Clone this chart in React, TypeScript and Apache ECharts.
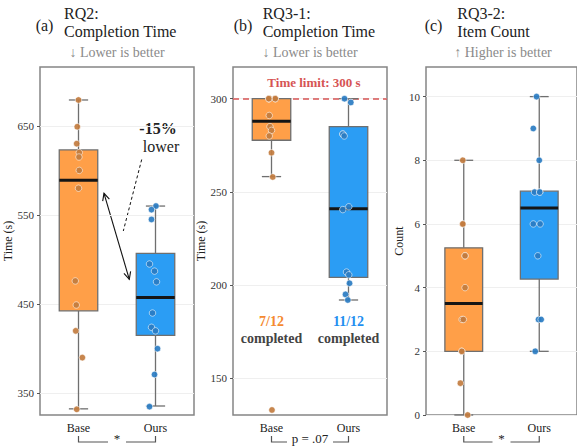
import React, { useEffect, useRef } from 'react';
import * as echarts from 'echarts';

// ---------- data ----------
const categories = ['Base', 'Ours'];

// [min, Q1, median, Q3, max] per condition
const rq2Box = [
  [332.5, 442.5, 589, 623, 679],
  [335.7, 415, 457.5, 507, 560],
];
const rq2Base = [679, 649, 630, 620, 615, 600, 580, 476, 449, 420, 390, 332];
const rq2BaseJitter = [0, -0.016, -0.023, 0.01, 0.006, 0.01, 0, -0.042, -0.029, -0.036, 0.05, -0.023];
const rq2Ours = [560, 556, 545, 495, 487, 475, 440, 424, 420, 400, 371, 335];
const rq2OursJitter = [0.006, -0.052, -0.052, -0.078, -0.013, 0.013, -0.039, -0.052, 0, 0.026, -0.013, -0.078];
const rq2Ticks = [350, 450, 550, 650];

const rq31Box = [
  [258.2, 277.7, 287.9, 300, 300],
  [192, 204.1, 241, 285, 300],
];
const rq31Base = [300, 300, 300, 300, 300, 291, 285, 283, 280, 271, 258, 133];
const rq31BaseJitter = [-0.036, 0.049, -0.029, 0.049, -0.036, -0.029, -0.02, 0, -0.029, 0, 0.016, 0.006];
const rq31Ours = [300, 298, 281, 281, 280, 242, 240.5, 207, 205.5, 201, 195, 192];
const rq31OursJitter = [-0.052, 0.03, -0.074, -0.074, -0.056, 0.004, -0.074, -0.026, 0.004, 0.013, -0.039, -0.009];
const rq31Ticks = [150, 200, 250, 300];
const timeLimit = 300;

const rq32Box = [
  [0, 2, 3.5, 5.25, 8],
  [2, 4.27, 6.5, 7.03, 10],
];
const rq32Base = [8, 6, 6, 5, 5, 4, 3, 3, 2, 2, 1, 0];
const rq32BaseJitter = [-0.013, -0.013, -0.013, 0.017, 0.017, 0.017, -0.022, -0.005, -0.026, -0.026, -0.044, 0.052];
const rq32Ours = [10, 9, 8, 7, 7, 7, 6, 6, 5, 3, 3, 2];
const rq32OursJitter = [-0.036, -0.079, 0, -0.062, 0.006, 0.006, -0.079, 0.012, -0.019, -0.01, 0.025, -0.053];
const rq32Ticks = [0, 2, 4, 6, 8, 10];

// ---------- styling ----------
const FONT = "'Liberation Serif', 'Times New Roman', 'DejaVu Serif', serif";
const BOX_FILL = ['#ff9f48', '#2b9df4'];
const DOT = ['#c27c3f', '#2a7cc2'];

const panels = [
  { box: rq2Box, base: rq2Base, baseJ: rq2BaseJitter, ours: rq2Ours, oursJ: rq2OursJitter, ticks: rq2Ticks, min: 325.6, max: 716, name: 'Time (s)', nameGap: 22, left: 40, width: 154 },
  { box: rq31Box, base: rq31Base, baseJ: rq31BaseJitter, ours: rq31Ours, oursJ: rq31OursJitter, ticks: rq31Ticks, min: 130.3, max: 317, name: 'Time (s)', nameGap: 15, left: 233, width: 154 },
  { box: rq32Box, base: rq32Base, baseJ: rq32BaseJitter, ours: rq32Ours, oursJ: rq32OursJitter, ticks: rq32Ticks, min: 0, max: 10.93, name: 'Count', nameGap: 16, left: 426, width: 151 },
];

const GRID_TOP = 67;
const GRID_H = 348;

function arrowHead(tipX: number, tipY: number, fromX: number, fromY: number) {
  const ang = Math.atan2(tipY - fromY, tipX - fromX);
  const len = 8;
  const spread = 0.45;
  return [
    [tipX - len * Math.cos(ang - spread), tipY - len * Math.sin(ang - spread)],
    [tipX, tipY],
    [tipX - len * Math.cos(ang + spread), tipY - len * Math.sin(ang + spread)],
  ];
}

export default function App() {
  const ref = useRef<HTMLDivElement>(null);
  useEffect(() => {
    const chart = echarts.init(ref.current!, null, { renderer: 'svg' });

    const grid = panels.map((p) => ({
      left: p.left, top: GRID_TOP, width: p.width, height: GRID_H,
      show: true, borderColor: '#858585', borderWidth: 1.5, backgroundColor: 'transparent',
    }));

    const xAxis: any[] = [];
    panels.forEach((p, i) => {
      xAxis.push({
        type: 'category', gridIndex: i, data: categories,
        axisLine: { show: false, onZero: false }, axisTick: { show: false },
        axisLabel: { fontFamily: FONT, fontSize: 12, color: '#222', margin: 7 },
        splitLine: { show: false },
      });
    });
    panels.forEach((p, i) => {
      xAxis.push({
        type: 'value', gridIndex: i, min: -0.5, max: 1.5, show: false,
        axisLine: { show: false, onZero: false }, axisTick: { show: false }, axisLabel: { show: false }, splitLine: { show: false },
      });
    });

    const yAxis = panels.map((p, i) => ({
      type: 'value', gridIndex: i, min: p.min, max: p.max,
      axisLine: { show: false, onZero: false },
      axisTick: { show: true, length: 3, customValues: p.ticks, lineStyle: { color: '#555' } },
      axisLabel: { customValues: p.ticks, fontFamily: FONT, fontSize: 11, color: '#333', margin: 6 },
      splitLine: { show: true, lineStyle: { color: '#efefef', width: 1 } },
      name: p.name, nameLocation: 'middle', nameGap: p.nameGap,
      nameTextStyle: { fontFamily: FONT, fontSize: 12, color: '#222' },
    }));

    const series: any[] = [];
    panels.forEach((p, i) => {
      series.push({
        type: 'custom', xAxisIndex: i, yAxisIndex: i, z: 2,
        data: p.box.map((b, k) => [k, ...b]),
        encode: { x: 0, y: [1, 2, 3, 4, 5] },
        renderItem: (params: any, api: any) => {
          const cat = api.value(0);
          const mn = api.value(1), q1 = api.value(2), md = api.value(3), q3 = api.value(4), mx = api.value(5);
          const band = api.size([1, 0])[0];
          const bw = band * 0.5;
          const cx = api.coord([cat, md])[0];
          const y = (v: number) => api.coord([cat, v])[1];
          const gray = { stroke: '#6f6f6f', lineWidth: 1.3 };
          return {
            type: 'group',
            children: [
              { type: 'line', shape: { x1: cx, y1: y(q3), x2: cx, y2: y(mx) }, style: gray },
              { type: 'line', shape: { x1: cx, y1: y(q1), x2: cx, y2: y(mn) }, style: gray },
              { type: 'line', shape: { x1: cx - bw / 4, y1: y(mx), x2: cx + bw / 4, y2: y(mx) }, style: gray },
              { type: 'line', shape: { x1: cx - bw / 4, y1: y(mn), x2: cx + bw / 4, y2: y(mn) }, style: gray },
              { type: 'rect', shape: { x: cx - bw / 2, y: y(q3), width: bw, height: y(q1) - y(q3) },
                style: { fill: BOX_FILL[cat], stroke: '#6f6f6f', lineWidth: 1.3 } },
              { type: 'line', shape: { x1: cx - bw / 2, y1: y(md), x2: cx + bw / 2, y2: y(md) },
                style: { stroke: '#151515', lineWidth: 3 } },
            ],
          };
        },
      });
      const groups = [
        { vals: p.base, jit: p.baseJ, c: 0 },
        { vals: p.ours, jit: p.oursJ, c: 1 },
      ];
      groups.forEach((g) => {
        const s: any = {
          type: 'scatter', xAxisIndex: 3 + i, yAxisIndex: i, z: 3,
          symbolSize: 6.5,
          data: g.vals.map((v, k) => [g.c + g.jit[k], v]),
          itemStyle: { color: DOT[g.c], opacity: 0.92, borderColor: 'rgba(255,255,255,0.75)', borderWidth: 0.8 },
          silent: true,
        };
        if (i === 1 && g.c === 0) {
          s.markLine = {
            silent: true, symbol: 'none', z: 1,
            lineStyle: { color: '#d65454', type: [6, 4], width: 1.5 },
            label: { show: false },
            data: [{ yAxis: timeLimit }],
          };
        }
        series.push(s);
      });
    });

    // ---------- annotations ----------
    const txt = (text: string, x: number, y: number, extra: any = {}) => ({
      type: 'text', x, y,
      style: { text, fontFamily: FONT, fontSize: 16, fill: '#222', textAlign: 'left', textVerticalAlign: 'middle', ...extra },
    });
    const titles = [
      { tag: '(a)', l1: 'RQ2:', l2: 'Completion Time', sub: '↓ Lower is better', tagX: 44.5, tx: 64 },
      { tag: '(b)', l1: 'RQ3-1:', l2: 'Completion Time', sub: '↓ Lower is better', tagX: 243, tx: 262.7 },
      { tag: '(c)', l1: 'RQ3-2:', l2: 'Item Count', sub: '↑ Higher is better', tagX: 433.5, tx: 457.3 },
    ];
    const graphic: any[] = [];
    titles.forEach((t, i) => {
      graphic.push(txt(t.tag, t.tagX, 25, { textAlign: 'center' }));
      graphic.push(txt(t.l1, t.tx, 13));
      graphic.push(txt(t.l2, t.tx, 31.5));
      graphic.push(txt(t.sub, panels[i].left + 77, 52, { textAlign: 'center', fontSize: 14, fill: '#8a8a8a' }));
    });

    // panel (a) annotation
    graphic.push(txt('-15%', 158, 128, { textAlign: 'center', fontWeight: 'bold' }));
    graphic.push(txt('lower', 161, 146, { textAlign: 'center' }));
    graphic.push({ type: 'line', shape: { x1: 141.7, y1: 159.5, x2: 123.3, y2: 231 }, style: { stroke: '#111', lineWidth: 1, lineDash: [3, 2.5] } });
    const A = [104, 193.3], B = [129.3, 279.3];
    graphic.push({ type: 'line', shape: { x1: A[0], y1: A[1], x2: B[0], y2: B[1] }, style: { stroke: '#111', lineWidth: 1.1 } });
    graphic.push({ type: 'polyline', shape: { points: arrowHead(A[0], A[1], B[0], B[1]) }, style: { stroke: '#111', lineWidth: 1.1, fill: 'none' } });
    graphic.push({ type: 'polyline', shape: { points: arrowHead(B[0], B[1], A[0], A[1]) }, style: { stroke: '#111', lineWidth: 1.1, fill: 'none' } });

    // panel (b) annotations
    graphic.push(txt('Time limit: 300 s', 314, 82, { textAlign: 'center', fontSize: 13, fontWeight: 'bold', fill: '#d65454' }));
    const bL = panels[1].left, bW = panels[1].width;
    graphic.push(txt('7/12', bL + bW * 0.25, 321, { textAlign: 'center', fontSize: 14, fontWeight: 'bold', fill: '#f58a30' }));
    graphic.push(txt('completed', bL + bW * 0.25, 338, { textAlign: 'center', fontSize: 14, fontWeight: 'bold', fill: '#444' }));
    graphic.push(txt('11/12', bL + bW * 0.75, 321, { textAlign: 'center', fontSize: 14, fontWeight: 'bold', fill: '#1f8ff0' }));
    graphic.push(txt('completed', bL + bW * 0.75, 338, { textAlign: 'center', fontSize: 14, fontWeight: 'bold', fill: '#444' }));

    // significance brackets
    const sig = [
      { label: '*', gap: 9 },
      { label: 'p = .07', gap: 23 },
      { label: '*', gap: 9 },
    ];
    sig.forEach((s, i) => {
      const x1 = panels[i].left + panels[i].width * 0.25;
      const x2 = panels[i].left + panels[i].width * 0.75;
      const mid = (x1 + x2) / 2;
      const yTop = 436, yBot = 442;
      const st = { stroke: '#555', lineWidth: 1.2, fill: 'none' };
      graphic.push({ type: 'polyline', shape: { points: [[x1, yTop], [x1, yBot], [mid - s.gap, yBot]] }, style: st });
      graphic.push({ type: 'polyline', shape: { points: [[x2, yTop], [x2, yBot], [mid + s.gap, yBot]] }, style: st });
      graphic.push(txt(s.label, mid, 438.5, { textAlign: 'center', fontSize: 13, fill: '#222' }));
    });

    chart.setOption({
      animation: false,
      backgroundColor: '#ffffff',
      grid, xAxis, yAxis, series, graphic,
    });
    return () => chart.dispose();
  }, []);
  return <div ref={ref} style={{ position: 'fixed', left: 0, top: 0, width: 577, height: 446 }} />;
}
